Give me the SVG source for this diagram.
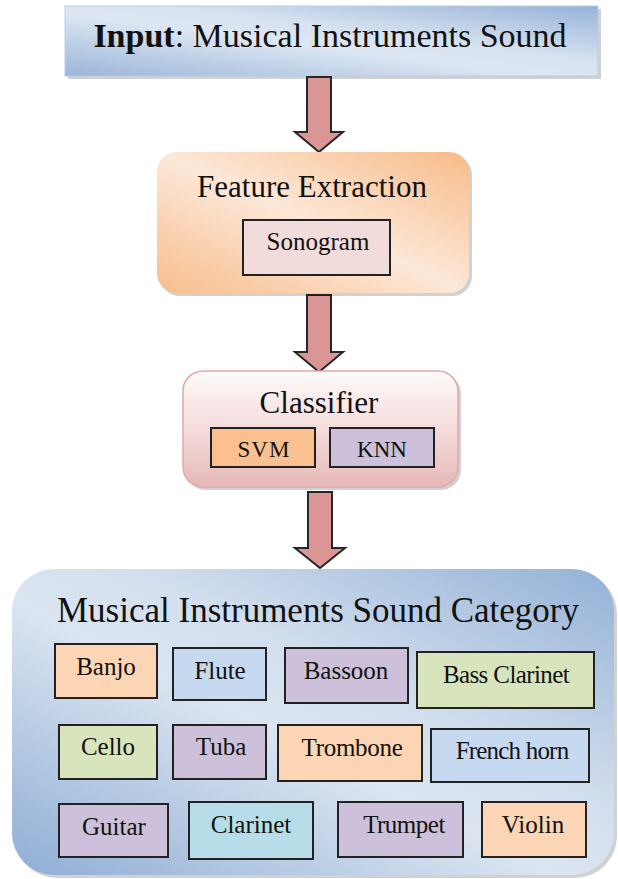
<svg xmlns="http://www.w3.org/2000/svg" width="618" height="879" viewBox="0 0 618 879">
<defs>
<linearGradient id="gBlue" x1="0" y1="1" x2="1" y2="0">
<stop offset="0" stop-color="#9ab5d8"/>
<stop offset="0.45" stop-color="#dde7f3"/>
<stop offset="0.6" stop-color="#d6e2f0"/>
<stop offset="1" stop-color="#95b2d7"/>
</linearGradient>
<linearGradient id="gBig" x1="0" y1="1" x2="1" y2="0">
<stop offset="0" stop-color="#8fadd4"/>
<stop offset="0.45" stop-color="#dbe5f1"/>
<stop offset="0.6" stop-color="#d3dfee"/>
<stop offset="1" stop-color="#93b1d6"/>
</linearGradient>
<linearGradient id="gOrange" x1="0" y1="1" x2="1" y2="0">
<stop offset="0" stop-color="#f7bd8c"/>
<stop offset="0.5" stop-color="#fde8d8"/>
<stop offset="1" stop-color="#f7bb88"/>
</linearGradient>
<linearGradient id="gPink" x1="0" y1="0" x2="0" y2="1">
<stop offset="0" stop-color="#fefafa"/>
<stop offset="0.5" stop-color="#f5dcdc"/>
<stop offset="1" stop-color="#e6b8b7"/>
</linearGradient>
</defs>
<style>
.t{font-family:"Liberation Serif","Times New Roman",serif;fill:#111;text-anchor:middle}
.big{font-size:34px}
.mid{font-size:31px}
.sm{font-size:25px}
.box{stroke:#222;stroke-width:2}
.shadow{fill:#000;opacity:0.18}
.arrow{fill:#d99694;stroke:#262626;stroke-width:2;stroke-linejoin:miter}
.peach{fill:#fcd5b4}.blue{fill:#c6d9f0}.lav{fill:#ccc0da}.green{fill:#d7e4bc}.cyan{fill:#b7dee8}
</style>
<g id="input">
<rect class="shadow" x="68" y="9" width="533" height="70"/>
<rect x="65" y="6" width="533" height="70" fill="url(#gBlue)" stroke="#b9cde5" stroke-width="1"/>
<text class="t big" x="330" y="47" font-family="Liberation Serif"><tspan font-weight="bold">Input</tspan>: Musical Instruments Sound</text>
</g>

<g id="connectors">
<path class="arrow" d="M307,77 H331 V132 H343 L319,152 L295,132 H307 Z"/>
<path class="arrow" d="M307,295 H331 V352 H343 L319,372 L295,352 H307 Z"/>
<path class="arrow" d="M308,492 H332 V548 H345 L320,568 L295,548 H308 Z"/>
</g>

<g id="feature-extraction">
<rect class="shadow" x="160" y="155" width="312" height="141" rx="20"/>
<rect x="157" y="152" width="312" height="141" rx="20" fill="url(#gOrange)"/>
<text class="t mid" x="312" y="197" font-family="Liberation Serif">Feature Extraction</text>
<g id="sonogram">
<rect class="box" x="243" y="220" width="147" height="55" fill="#f2dcdb"/>
<text class="t sm" x="318" y="250" font-family="Liberation Serif">Sonogram</text>
</g>
</g>

<g id="classifier">
<rect class="shadow" x="186" y="374" width="275" height="116" rx="20"/>
<rect x="183" y="371" width="275" height="116" rx="20" fill="url(#gPink)" stroke="#e0a9a8" stroke-width="1.5"/>
<text class="t mid" x="319" y="413" font-family="Liberation Serif">Classifier</text>
<g id="svm">
<rect class="box" x="211" y="428" width="104" height="39" fill="#fac090"/>
<text class="t" x="264" y="457" font-size="23" letter-spacing="1" font-family="Liberation Serif">SVM</text>
</g>
<g id="knn">
<rect class="box" x="330" y="428" width="104" height="39" fill="#ccc0da"/>
<text class="t" x="382" y="457" font-size="23" font-family="Liberation Serif">KNN</text>
</g>
</g>

<g id="category">
<rect class="shadow" x="15" y="572" width="602" height="306" rx="42"/>
<rect x="12" y="569" width="602" height="306" rx="42" fill="url(#gBig)"/>
<text class="t" x="318" y="622" font-size="35" font-family="Liberation Serif">Musical Instruments Sound Category</text>
</g>

<g id="banjo"><rect class="box peach" x="55" y="644" width="102" height="54"/><text class="t sm" x="106" y="675" font-family="Liberation Serif">Banjo</text></g>
<g id="flute"><rect class="box blue" x="173" y="648" width="93" height="52"/><text class="t sm" x="220" y="679" font-family="Liberation Serif">Flute</text></g>
<g id="bassoon"><rect class="box lav" x="285" y="648" width="123" height="55"/><text class="t sm" x="346" y="679" font-family="Liberation Serif">Bassoon</text></g>
<g id="bass-clarinet"><rect class="box green" x="417" y="652" width="177" height="56"/><text class="t sm" x="506" y="683" letter-spacing="-0.6" font-family="Liberation Serif">Bass Clarinet</text></g>

<g id="cello"><rect class="box green" x="59" y="725" width="98" height="54"/><text class="t sm" x="108" y="755" font-family="Liberation Serif">Cello</text></g>
<g id="tuba"><rect class="box lav" x="173" y="725" width="93" height="54"/><text class="t sm" x="221" y="755" font-family="Liberation Serif">Tuba</text></g>
<g id="trombone"><rect class="box peach" x="278" y="725" width="144" height="56"/><text class="t sm" x="352" y="756" letter-spacing="-0.3" font-family="Liberation Serif">Trombone</text></g>
<g id="french-horn"><rect class="box blue" x="431" y="729" width="158" height="53"/><text class="t sm" x="512" y="759" letter-spacing="-0.8" font-family="Liberation Serif">French horn</text></g>

<g id="guitar"><rect class="box lav" x="59" y="804" width="109" height="53"/><text class="t sm" x="114" y="835" font-family="Liberation Serif">Guitar</text></g>
<g id="clarinet"><rect class="box cyan" x="189" y="802" width="124" height="57"/><text class="t sm" x="251" y="833" font-family="Liberation Serif">Clarinet</text></g>
<g id="trumpet"><rect class="box lav" x="338" y="802" width="125" height="55"/><text class="t sm" x="404" y="833" letter-spacing="-0.5" font-family="Liberation Serif">Trumpet</text></g>
<g id="violin"><rect class="box peach" x="482" y="802" width="104" height="55"/><text class="t sm" x="533" y="833" font-family="Liberation Serif">Violin</text></g>
</svg>
